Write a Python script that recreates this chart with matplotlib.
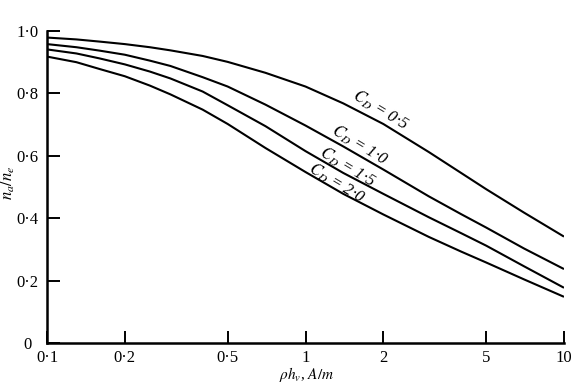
import matplotlib
matplotlib.use("Agg")
import matplotlib.pyplot as plt

# ---- data ----
rho_h = [0.1, 0.13, 0.16, 0.2, 0.25, 0.3, 0.4, 0.5, 0.7, 1.0, 1.4, 2.0, 3.0, 4.0, 5.0, 7.0, 10.0]
ratio_cd05 = [0.979, 0.973, 0.966, 0.958, 0.948, 0.938, 0.920, 0.901, 0.866, 0.822, 0.768, 0.702, 0.612, 0.545, 0.493, 0.418, 0.341]
ratio_cd10 = [0.958, 0.948, 0.937, 0.924, 0.905, 0.888, 0.852, 0.822, 0.764, 0.697, 0.630, 0.556, 0.470, 0.413, 0.370, 0.303, 0.237]
ratio_cd15 = [0.941, 0.928, 0.912, 0.893, 0.870, 0.848, 0.806, 0.762, 0.695, 0.615, 0.545, 0.478, 0.403, 0.352, 0.312, 0.246, 0.177]
ratio_cd20 = [0.918, 0.900, 0.878, 0.855, 0.825, 0.797, 0.748, 0.702, 0.625, 0.548, 0.478, 0.412, 0.340, 0.293, 0.258, 0.204, 0.148]

series = [ratio_cd05, ratio_cd10, ratio_cd15, ratio_cd20]
curve_labels = ["$C_D$ = 0·5", "$C_D$ = 1·0", "$C_D$ = 1·5", "$C_D$ = 2·0"]
label_x = [1.94, 1.62, 1.45, 1.32]
label_y = [0.747, 0.635, 0.564, 0.513]

xticks = [0.1, 0.2, 0.5, 1, 2, 5, 10]
xtick_labels = ["0·1", "0·2", "0·5", "1", "2", "5", "10"]
yticks = [0, 0.2, 0.4, 0.6, 0.8, 1.0]
ytick_labels = ["0", "0·2", "0·4", "0·6", "0·8", "1·0"]

plt.rcParams['font.family'] = ['Liberation Serif', 'DejaVu Serif']
plt.rcParams['mathtext.fontset'] = 'stix'

fig = plt.figure(figsize=(5.75, 3.86), dpi=100)
ax = fig.add_axes([47/575, 1-343/386, (564-47)/575, (343-31)/386])

for vals in series:
    ax.plot(rho_h, vals, color='black', lw=1.5, solid_capstyle='butt')

ax.set_xscale('log')
ax.set_xlim(0.1, 10)
ax.set_ylim(0, 1.0)
ax.set_xticks(xticks)
ax.set_xticklabels(xtick_labels)
ax.minorticks_off()
ax.set_yticks(yticks)
ax.set_yticklabels(ytick_labels)

for s in ['top', 'right']:
    ax.spines[s].set_visible(False)
for s in ['left', 'bottom']:
    ax.spines[s].set_linewidth(1.8)

ax.tick_params(axis='both', direction='in', length=9, width=1.4, labelsize=12)
ax.tick_params(axis='x', pad=5)
ax.tick_params(axis='y', pad=14)
for t in ax.get_yticklabels():
    t.set_horizontalalignment('center')

for txt, lx, ly in zip(curve_labels, label_x, label_y):
    ax.text(lx, ly, txt, rotation=-31, ha='center', va='center', fontsize=12,
            fontstyle='italic', rotation_mode='anchor')

fig.text(307/575, 1-375/386, r"$\rho h_v$, $A/m$", ha='center', va='center', fontsize=11)
fig.text(8/575, 1-183/386, r"$n_a/n_e$", ha='center', va='center', fontsize=12, rotation=90)

fig.savefig("out.png", dpi=100)
